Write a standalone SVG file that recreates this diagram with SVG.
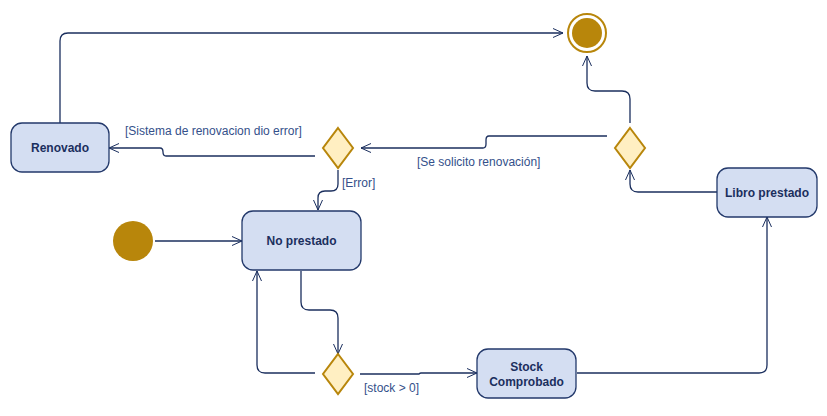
<svg xmlns="http://www.w3.org/2000/svg" width="827" height="416" viewBox="0 0 827 416">
<defs>
<marker id="arr" viewBox="0 0 10 10" refX="10" refY="5" markerWidth="10" markerHeight="10" markerUnits="userSpaceOnUse" orient="auto">
<path d="M0,0.5 L10,5 L0,9.5" fill="none" stroke="#1B2F5E" stroke-width="1"/>
</marker>
</defs>
<style>
.state{fill:#D4DEF2;stroke:#23396B;stroke-width:1.3}
.dec{fill:#FFEFC2;stroke:#B8860B;stroke-width:2}
.lbl{font-family:"Liberation Sans",Arial,sans-serif;font-size:12px;font-weight:bold;fill:#1B2F5E;text-anchor:middle}
.elbl{font-family:"Liberation Sans",Arial,sans-serif;font-size:12px;fill:#34508A}
.edge{fill:none;stroke:#1B2F5E;stroke-width:1.3;marker-end:url(#arr)}
</style>
<rect width="827" height="416" fill="#ffffff"/>
<g id="connectors">
<path class="edge" d="M60,123 V41 Q60,33 68,33 H563"/>
<path class="edge" d="M155,241 H242"/>
<path class="edge" d="M301,271 V302 Q301,310 309,310 H330 Q338,310 338,318 V354"/>
<path class="edge" d="M315,373 H265 Q257,373 257,365 V271"/>
<path class="edge" d="M360,374 H419 Q420,373 421,373 H477"/>
<path class="edge" d="M577,373 H759 Q767,373 767,365 V217"/>
<path class="edge" d="M717,192 H638 Q630,192 630,184 V170"/>
<path class="edge" d="M630,123 V99 Q630,91 622,91 H595 Q587,91 587,83 V56"/>
<path class="edge" d="M607,136 H489 Q486,136 486,140 V144 Q486,148 483,148 H361"/>
<path class="edge" d="M315,156 H166 Q163,156 163,152 Q163,148 160,148 H109"/>
<path class="edge" d="M338,170 V184 Q338,191 331,191 H325 Q318,191 318,198 V210"/>
</g>
<g id="edge-labels">
<text class="elbl" x="125" y="135">[Sistema de renovacion dio error]</text>
<text class="elbl" x="417" y="166">[Se solicito renovación]</text>
<text class="elbl" x="342" y="187">[Error]</text>
<text class="elbl" x="364" y="392">[stock &gt; 0]</text>
</g>
<g id="start">
<circle cx="133" cy="241" r="20" fill="#B8860B"/>
</g>
<g id="end">
<circle cx="587" cy="33" r="19" fill="#ffffff" stroke="#B8860B" stroke-width="2"/>
<circle cx="587" cy="33" r="15" fill="#B8860B"/>
</g>
<g id="renovado">
<rect class="state" x="11" y="123" width="98" height="49" rx="11"/>
<text class="lbl" x="60" y="152">Renovado</text>
</g>
<g id="no-prestado">
<rect class="state" x="242" y="211" width="119" height="59" rx="11"/>
<text class="lbl" x="301.5" y="245">No prestado</text>
</g>
<g id="libro-prestado">
<rect class="state" x="717" y="168" width="100" height="49" rx="11"/>
<text class="lbl" x="767" y="197">Libro prestado</text>
</g>
<g id="stock-comprobado">
<rect class="state" x="477" y="349" width="99" height="49" rx="11"/>
<text class="lbl" x="526.5" y="371">Stock</text>
<text class="lbl" x="526.5" y="386">Comprobado</text>
</g>
<g id="decision-1">
<path class="dec" d="M338,128 L353,148 L338,168 L323,148 Z"/>
</g>
<g id="decision-2">
<path class="dec" d="M630,128 L645,148 L630,168 L615,148 Z"/>
</g>
<g id="decision-3">
<path class="dec" d="M338,354 L353,374 L338,394 L323,374 Z"/>
</g>
</svg>
